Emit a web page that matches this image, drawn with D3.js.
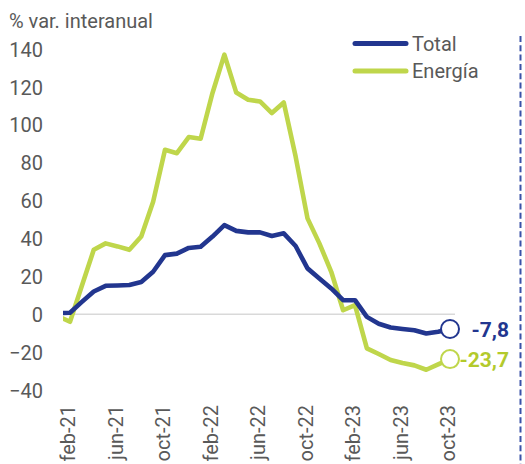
<!DOCTYPE html>
<html>
<head>
<meta charset="utf-8">
<script src="https://cdn.jsdelivr.net/npm/d3@7"></script>
<style>
  html, body { margin: 0; padding: 0; background: #fff; }
  svg { display: block; font-family: Roboto, "Noto Sans", sans-serif; }
</style>
</head>
<body>
<svg id="chart" width="525" height="464"></svg>
<script>
const months = ["ene-21","feb-21","mar-21","abr-21","may-21","jun-21","jul-21","ago-21","sep-21","oct-21","nov-21","dic-21",
                "ene-22","feb-22","mar-22","abr-22","may-22","jun-22","jul-22","ago-22","sep-22","oct-22","nov-22","dic-22",
                "ene-23","feb-23","mar-23","abr-23","may-23","jun-23","jul-23","ago-23","sep-23","oct-23"];
const totalValues = [0.5, 0.8, 6.5, 12, 15, 15.2, 15.4, 17, 22.4, 31.2, 32, 35,
                     35.6, 41, 47, 44, 43.2, 43.2, 41.3, 42.7, 36, 24.2, 18.9, 13.6,
                     7.4, 7.4, -1.4, -5, -7, -7.8, -8.5, -10.2, -9.2, -7.8];
const energyValues = [-1, -4, 15, 34, 37.4, 35.8, 34, 41, 59.4, 86.8, 85, 93.5,
                      92.6, 116.8, 137, 117, 113.2, 112.3, 106.2, 111.8, 83.2, 50.6, 37.4, 22.4,
                      2.1, 4.8, -18, -21, -24.2, -25.8, -27, -29.3, -26.5, -23.7];
const seriesNames = ["Total", "Energía"];
const yTicks = [-40, -20, 0, 20, 40, 60, 80, 100, 120, 140];
const xTickLabels = ["feb-21","jun-21","oct-21","feb-22","jun-22","oct-22","feb-23","jun-23","oct-23"];
const endLabels = ["-7,8", "-23,7"];
const axisTitle = "% var. interanual";

const colors = ["#22368f", "#bfd64b"];
const labelColors = ["#22368f", "#b3ca2c"];
const textGray = "#595959";

const svg = d3.select("#chart");
const plotLeft = 63, plotRight = 456;
const x = d3.scaleLinear().domain([1, 33]).range([70, 450]);
const y = d3.scaleLinear().domain([-40, 140]).range([390, 49]);

// clip
svg.append("defs").append("clipPath").attr("id", "plotclip")
  .append("rect").attr("x", plotLeft).attr("y", 0).attr("width", plotRight - plotLeft).attr("height", 464);

// axis title
svg.append("text").attr("x", 9).attr("y", 28).attr("font-size", 20).attr("fill", textGray).text(axisTitle);

// y tick labels via axis
const yAxis = d3.axisLeft(y).tickValues(yTicks).tickSize(0).tickPadding(0).tickFormat(d3.format("d"));
const yg = svg.append("g").attr("transform", "translate(43,0)").call(yAxis);
yg.select(".domain").remove();
yg.selectAll("text").attr("font-size", 20).attr("fill", textGray)
  .attr("font-family", "Roboto, sans-serif").attr("dy", "0.36em").attr("text-anchor", "end");

// zero gridline
svg.append("line").attr("x1", plotLeft).attr("x2", plotRight - 1)
  .attr("y1", y(0)).attr("y2", y(0)).attr("stroke", "#d9d9d9").attr("stroke-width", 1.6);

// x tick labels
const xg = svg.append("g");
xTickLabels.forEach(lbl => {
  const i = months.indexOf(lbl);
  xg.append("text")
    .attr("transform", `translate(${x(i) - 2},405) rotate(-90)`)
    .attr("text-anchor", "end").attr("dy", "0.36em")
    .attr("font-size", 20).attr("fill", textGray).text(lbl);
});

// lines
const seriesData = [totalValues, energyValues];
const line = d3.line().x((d, i) => x(i)).y(d => y(d));
const lg = svg.append("g").attr("clip-path", "url(#plotclip)");
[1, 0].forEach(s => {
  lg.append("path").datum(seriesData[s]).attr("d", line)
    .attr("fill", "none").attr("stroke", colors[s]).attr("stroke-width", 4.6)
    .attr("stroke-linejoin", "round");
});

// end markers and labels
const lastIdx = months.length - 1;
const labelY = [0, 0];
[0, 1].forEach(s => {
  const v = seriesData[s][lastIdx];
  svg.append("circle").attr("cx", x(lastIdx)).attr("cy", y(v)).attr("r", 9)
    .attr("fill", "#fff").attr("stroke", colors[s]).attr("stroke-width", 2);
  svg.append("text").attr("x", 509).attr("y", y(v)).attr("dy", "0.36em")
    .attr("text-anchor", "end").attr("font-size", 21).attr("font-weight", "bold")
    .attr("fill", labelColors[s]).text(endLabels[s]);
});

// legend
const legY = [43.5, 71];
seriesNames.forEach((name, s) => {
  svg.append("line").attr("x1", 355).attr("x2", 406).attr("y1", legY[s]).attr("y2", legY[s])
    .attr("stroke", colors[s]).attr("stroke-width", 5).attr("stroke-linecap", "round");
  svg.append("text").attr("x", 412).attr("y", legY[s]).attr("dy", "0.36em")
    .attr("font-size", 20).attr("fill", textGray).text(name);
});

// right dashed border
svg.append("line").attr("x1", 520.5).attr("x2", 520.5).attr("y1", 36).attr("y2", 464)
  .attr("stroke", "#3a52a8").attr("stroke-width", 2).attr("stroke-dasharray", "6,3.3");
</script>
</body>
</html>
